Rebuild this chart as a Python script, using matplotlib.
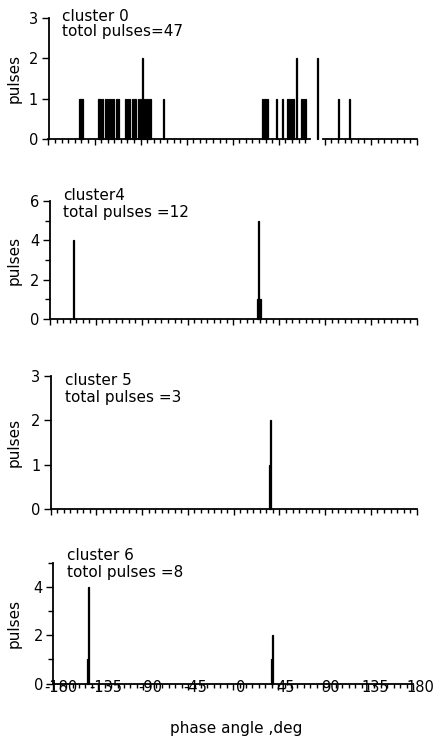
import numpy as np
import matplotlib
matplotlib.use("Agg")
import matplotlib.pyplot as plt
from matplotlib.ticker import FixedLocator, NullFormatter, FixedFormatter
from matplotlib.transforms import blended_transform_factory, ScaledTranslation

plt.rcParams['font.family'] = ['DejaVu Sans']

# ---- data: phase angle (deg) of every recorded pulse, one entry per pulse ----
cluster0_angles = [-150, -149, -148, -147,
                   -132, -131, -130, -128,
                   -125, -123, -121, -119, -117,
                   -114, -112,
                   -105, -103, -101,
                   -98, -96,
                   -93, -91, -89, -89, -87, -85, -83, -81,
                   -68,
                   29, 31, 33,
                   42, 48,
                   53, 55, 57, 59,
                   62, 62,
                   67, 69, 71,
                   82, 82,
                   103, 114]
cluster4_angles = [-157, -157, -157, -157,
                   23, 24, 24, 24, 24, 24, 25, 26]
cluster5_angles = [35, 36, 36]
cluster6_angles = [-146, -145, -145, -145, -145,
                   38, 39, 39]

panel_titles = ["cluster 0", "cluster4", "cluster 5", "cluster 6"]
panel_totals = ["totol pulses=47", "total pulses =12", "total pulses =3", "totol pulses =8"]

y_major = [[0, 1, 2, 3], [0, 2, 4, 6], [0, 1, 2, 3], [0, 2, 4]]
y_minor = [[], [1, 3, 5], [], [1, 3, 5]]
y_limits = [3, 6, 3, 5]

x_major = [-180, -135, -90, -45, 0, 45, 90, 135, 180]
x_labels = ["-180", "-135", "-90", "-45", "0", "45", "90", "135", "180"]
bin_edges = np.arange(-180, 181, 1)

# ---- layout (pixels on a 437 x 738 canvas) ----
W, H = 437, 738
boxes = [(48.5, 417, 139, 18),
         (50, 417, 319, 201),
         (50.7, 416.7, 509, 376),
         (53.3, 413, 683.5, 563)]
text_pos = [(62, 21, 36), (63, 200.5, 216.5), (65, 385, 402), (67, 560.5, 577)]
axis_gap = [(75, 88), None, None, None]   # break in the baseline of the first panel

LW = 0.9
SPINE_LW = 1.3

fig = plt.figure(figsize=(W / 100, H / 100), dpi=100)
fig.patch.set_facecolor("white")


def draw_pulses(ax, angles):
    """Histogram of pulses in 1-degree bins, each run of occupied bins drawn solid."""
    counts, edges = np.histogram(angles, bins=bin_edges)
    n = len(counts)
    i = 0
    while i < n:
        if counts[i] == 0:
            i += 1
            continue
        j = i
        while j < n and counts[j] > 0:
            j += 1
        xs = np.repeat(edges[i:j + 1], 2)
        ys = np.concatenate([[0], np.repeat(counts[i:j], 2), [0]])
        ax.fill(xs, ys, facecolor="black", edgecolor="black", lw=LW,
                joinstyle="miter", clip_on=False)
        i = j


minor_x = [-180 + k * 45 / 7 for k in range(57) if k % 7 != 0]
all_angles = [cluster0_angles, cluster4_angles, cluster5_angles, cluster6_angles]

for p in range(4):
    left, right, y0, ytop = boxes[p]
    ax = fig.add_axes([left / W, 1 - y0 / H, (right - left) / W, (y0 - ytop) / H])
    ax.set_xlim(-180, 180)
    ax.set_ylim(0, y_limits[p])
    for s in ("top", "right", "bottom"):
        ax.spines[s].set_visible(False)
    ax.spines["left"].set_linewidth(SPINE_LW)

    # baseline, optionally broken
    gap = axis_gap[p]
    if gap is None:
        ax.plot([-180, 180], [0, 0], color="black", lw=SPINE_LW, clip_on=False)
        mj, mn = x_major, minor_x
    else:
        ax.plot([-180, gap[0]], [0, 0], color="black", lw=SPINE_LW, clip_on=False)
        ax.plot([gap[1], 180], [0, 0], color="black", lw=SPINE_LW, clip_on=False)
        mj = [v for v in x_major if not gap[0] < v < gap[1]]
        mn = [v for v in minor_x if not gap[0] < v < gap[1]]

    ax.xaxis.set_major_locator(FixedLocator(mj))
    ax.xaxis.set_minor_locator(FixedLocator(mn))
    ax.xaxis.set_major_formatter(NullFormatter())
    ax.tick_params(axis="x", which="major", direction="out", length=4.5, width=1.0)
    ax.tick_params(axis="x", which="minor", direction="out", length=3, width=1.0)

    ax.yaxis.set_major_locator(FixedLocator(y_major[p]))
    ax.yaxis.set_major_formatter(FixedFormatter([str(v) for v in y_major[p]]))
    ax.yaxis.set_minor_locator(FixedLocator(y_minor[p]))
    ax.tick_params(axis="y", which="major", direction="out", length=5, width=1.0,
                   labelsize=10.5, pad=2.5)
    ax.tick_params(axis="y", which="minor", direction="out", length=3.5, width=1.0)

    draw_pulses(ax, all_angles[p])

    tx, b1, b2 = text_pos[p]
    fig.text(tx / W, 1 - b1 / H, panel_titles[p], fontsize=11, va="baseline")
    fig.text(tx / W, 1 - b2 / H, panel_totals[p], fontsize=11, va="baseline")
    fig.text(14 / W, 1 - (y0 + ytop) / 2 / H, "pulses", fontsize=11,
             rotation=90, ha="center", va="center")

    if p == 3:
        trans = blended_transform_factory(ax.transData, ax.transAxes) + \
            ScaledTranslation(5.2 / 72, 2.5 / 72, fig.dpi_scale_trans)
        for v, s in zip(x_major, x_labels):
            ax.text(v, 0, s, transform=trans, ha="center", va="top", fontsize=10.5,
                    clip_on=False)

fig.text(236 / W, 1 - 729 / H, "phase angle ,deg", fontsize=11,
         ha="center", va="center")

fig.savefig("out.png", dpi=100)
